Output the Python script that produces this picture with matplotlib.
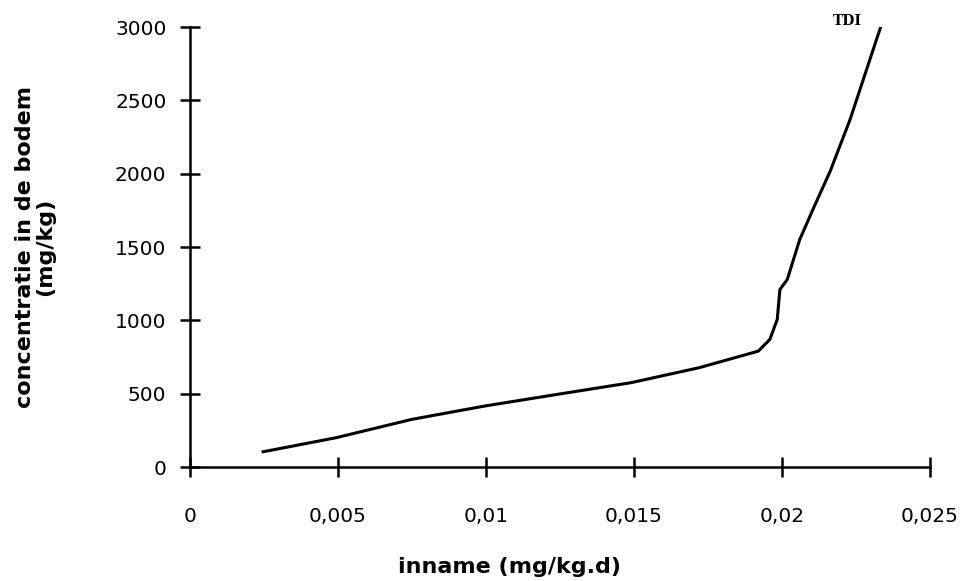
import numpy as np
import matplotlib
matplotlib.use("Agg")
import matplotlib.pyplot as plt

# intake (mg/kg.d) vs. soil concentration (mg/kg)
inname = [0.00247, 0.00494, 0.0075, 0.00996, 0.0124, 0.0149, 0.0172, 0.0192,
          0.01959, 0.01984, 0.01993, 0.02018, 0.0206, 0.02112, 0.02163, 0.0223, 0.02335]
concentratie = [104, 200, 325, 416, 495, 575, 677, 790,
                870, 1006, 1210, 1279, 1551, 1790, 2017, 2369, 3010]

x_ticks = [0, 0.005, 0.01, 0.015, 0.02, 0.025]
x_tick_labels = ["0", "0,005", "0,01", "0,015", "0,02", "0,025"]
y_ticks = [0, 500, 1000, 1500, 2000, 2500, 3000]

fig = plt.figure(figsize=(9.67, 5.81), dpi=100)
ax = fig.add_axes([0.1965, 0.1962, 0.7652, 0.7573])

ax.plot(inname, concentratie, color="black", linewidth=2.2)

ax.set_xlim(0, 0.025)
ax.set_ylim(0, 3000)
ax.set_xticks(x_ticks)
ax.set_xticklabels(x_tick_labels)
ax.set_yticks(y_ticks)

for side in ["top", "right"]:
    ax.spines[side].set_visible(False)
for side in ["left", "bottom"]:
    ax.spines[side].set_linewidth(1.8)

ax.tick_params(axis="both", direction="inout", length=14, width=1.8, labelsize=14.5)
ax.tick_params(axis="x", pad=22)
ax.tick_params(axis="y", pad=10)

ax.set_xlabel("inname (mg/kg.d)", fontsize=16, fontweight="bold")
ax.xaxis.set_label_coords(0.432, -0.205)
ax.set_ylabel("concentratie in de bodem\n(mg/kg)", fontsize=16, fontweight="bold",
              linespacing=1.05)
ax.yaxis.set_label_coords(-0.182, 0.5)

ax.text(0.0222, 3040, "TDI", fontsize=10, fontweight="bold", family="DejaVu Serif",
        ha="center", va="center")

fig.savefig("out.png", dpi=100)
